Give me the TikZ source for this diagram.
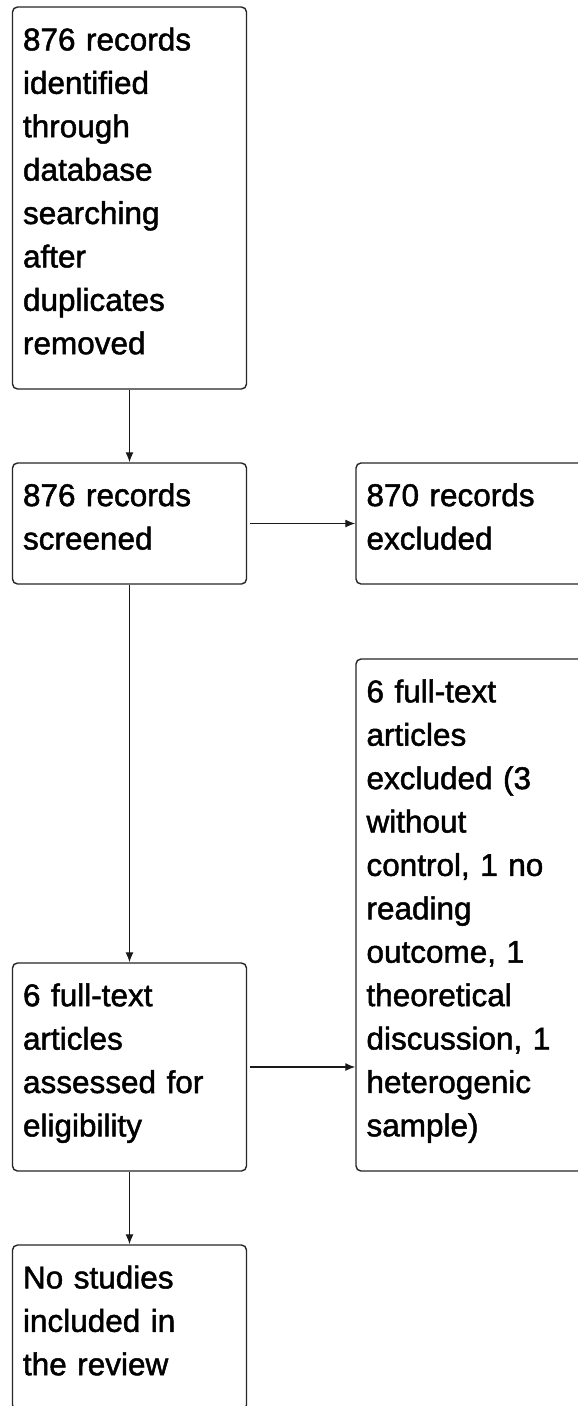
\documentclass[tikz,border=0pt]{standalone}
\usepackage{fontspec}
\setmainfont{Liberation Sans}
\newfontfamily\boxfont[FakeBold=1.5]{Liberation Sans}
\usetikzlibrary{arrows.meta}
\newcommand\bxs{\rule[-17.4pt]{0pt}{43.4pt}}
\tikzset{
  flowbox/.style={draw=black!85, line width=1.4pt, rounded corners=5pt,
    minimum width=234pt, inner xsep=10.5pt, inner ysep=0pt,
    text width=213pt, align=left,
    font=\boxfont\fontsize{31.5pt}{43.4pt}\selectfont},
  flowarrow/.style={draw=black!90, line width=1.3pt, -{Latex[length=10pt,width=8pt]}}
}
\begin{document}
\begin{tikzpicture}[x=1pt,y=1pt]
\useasboundingbox (0,0) rectangle (578,-1406);
\fill[white] (0,0) rectangle (578,-1406);
\node[flowbox, minimum height=382pt] (b1) at (129.5,-198) {\bxs 876 records\\identified\\through\\database\\searching\\after\\duplicates\\removed\bxs};
\node[flowbox, minimum height=121pt] (b2) at (129.5,-523.5) {\bxs 876 records\\screened\bxs};
\node[flowbox, minimum height=121pt] (b3) at (473,-523.5) {\bxs 870 records\\excluded\bxs};
\node[flowbox, minimum height=512pt] (b4) at (473,-915) {\bxs 6 full-text\\articles\\excluded (3\\without\\control, 1 no\\reading\\outcome, 1\\theoretical\\discussion, 1\\heterogenic\\sample)\bxs};
\node[flowbox, minimum height=208pt] (b5) at (129.5,-1067) {\bxs 6 full-text\\articles\\assessed for\\eligibility\bxs};
\node[flowbox, minimum height=165pt] (b6) at (129.5,-1327.5) {\bxs No studies\\included in\\the review\bxs};
\draw[flowarrow] (b1.south) -- (b2.north);
\draw[flowarrow] (b2.south) -- (b5.north);
\draw[flowarrow] (b5.south) -- (b6.north);
\draw[flowarrow, shorten <=3pt] (b2.east) -- (b3.west);
\draw[flowarrow, shorten <=3pt] (b5.east) -- (b5.east -| b4.west);
\end{tikzpicture}
\end{document}
